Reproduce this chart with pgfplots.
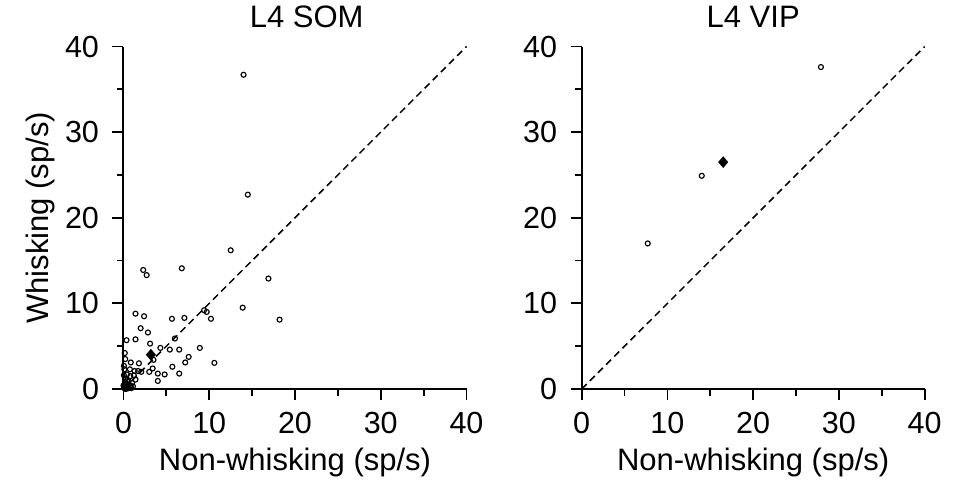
\documentclass[border=0pt]{standalone}
\usepackage{pgfplots}
\pgfplotsset{compat=1.18}
\usepackage{fontspec}
\setmainfont{Liberation Sans}

\pgfplotstableread{
x y
14.0 36.7
14.5 22.7
12.5 16.2
2.3 13.9
2.7 13.3
6.8 14.1
16.9 12.9
13.9 9.5
18.2 8.1
1.4 8.8
2.4 8.5
5.65 8.2
7.1 8.3
9.4 9.2
9.7 9.0
10.2 8.2
2.0 7.1
2.85 6.6
1.4 5.8
0.35 5.7
3.1 5.3
4.3 4.8
5.4 4.6
6.5 4.6
8.9 4.8
6.0 5.9
7.6 3.75
7.2 3.1
10.6 3.05
5.7 2.6
6.5 1.8
4.8 1.7
4.0 1.8
4.0 0.94
3.0 2.0
3.4 2.4
3.5 3.4
1.8 3.0
0.85 3.1
0.15 4.2
0.2 3.5
0.05 2.7
0.1 2.3
0.75 2.3
1.3 2.1
1.7 2.1
2.07 2.0
0.8 1.5
1.4 1.1
0.4 1.7
0.2 1.2
0.6 0.9
0.3 0.5
0.1 0.2
0.5 0.3
0.8 0.4
0.2 0.8
0.05 1.6
0.9 0.1
1.1 0.3
0.3 0.0
0.6 0.1
0.0 0.4
0.4 1.0
1.0 0.7
0.15 0.05
1.2 1.6
}\somtable

\pgfplotstableread{
x y
7.7 17.0
14.0 24.9
27.9 37.6
}\viptable

\pgfplotsset{
  myax/.style={
    scale only axis, width=343pt, height=342.5pt,
    xmin=0, xmax=40, ymin=0, ymax=40,
    axis x line*=bottom, axis y line*=left,
    xtick={0,10,20,30,40}, ytick={0,10,20,30,40},
    minor xtick={5,15,25,35}, minor ytick={5,15,25,35},
    tick align=outside,
    major tick length=11pt, minor tick length=6.5pt,
    every tick/.style={black, line width=1.8pt},
    axis line style={black, line width=2pt},
    /pgf/number format/assume math mode=true,
    every tick label/.append style={font=\fontsize{30.5}{34}\selectfont},
    yticklabel style={xshift=-10pt},
    xticklabel style={yshift=-9pt},
    label style={font=\fontsize{31}{36}\selectfont},
    xlabel style={at={(axis description cs:0.5,-0.238)}, anchor=base},
    title style={font=\fontsize{31}{36}\selectfont, anchor=base},
    clip=false,
  },
  circ/.style={only marks, mark=o, mark size=2.5pt, mark options={line width=1.15pt, black}},
  diam/.style={only marks, mark=diamond*, mark size=5.5pt, mark options={black, fill=black, scale=1, xscale=1.15}},
  diag/.style={black, line width=1.5pt, dash pattern=on 7pt off 4.5pt},
}

\begin{document}
\begin{tikzpicture}
\path[use as bounding box] (-123.5pt,-91pt) rectangle (844.5pt,389pt);
\begin{axis}[myax, at={(0pt,0pt)},
  xlabel={Non-whisking (sp/s)},
  ylabel={Whisking (sp/s)},
  ylabel style={at={(axis description cs:-0.2187,0.5)}, anchor=base, rotate=0},
  title={L4 SOM},
  title style={at={(axis description cs:0.534,1.0365)}},
]
\addplot[diag] coordinates {(0,0) (40,40)};
\addplot[circ] table[x=x, y=y] {\somtable};
\addplot[diam] coordinates {(3.2,4.0)};
\end{axis}
\begin{axis}[myax, at={(458.2pt,0pt)},
  xlabel={Non-whisking (sp/s)},
  title={L4 VIP},
  title style={at={(axis description cs:0.5,1.0365)}},
]
\addplot[diag] coordinates {(0,0) (40,40)};
\addplot[circ] table[x=x, y=y] {\viptable};
\addplot[diam] coordinates {(16.5,26.5)};
\end{axis}
\end{tikzpicture}
\end{document}
